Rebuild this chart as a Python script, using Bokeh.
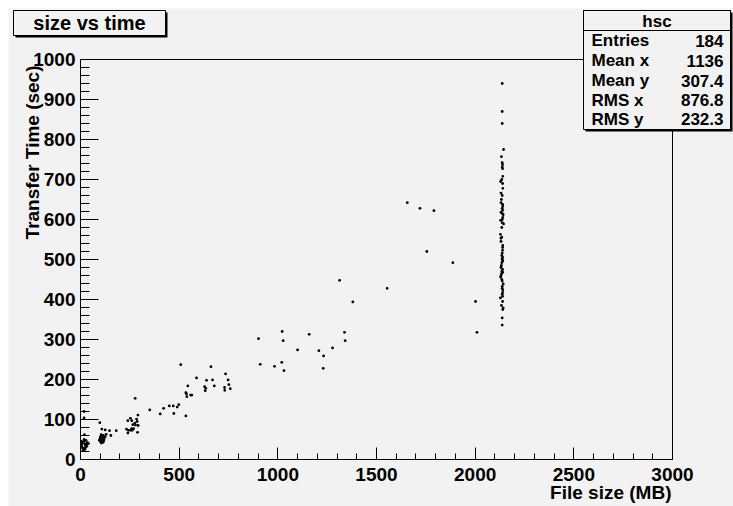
import numpy as np
from bokeh.plotting import figure
from bokeh.models import Range1d, SingleIntervalTicker, BoxAnnotation, Label, ColumnDataSource
from bokeh.embed import file_html
from bokeh.resources import INLINE

# ---- data ----
# vertical column near 2140 MB
col_x = [2137, 2137, 2137, 2144, 2133, 2137, 2139, 2137, 2139, 2140, 2129, 2140, 2131, 2137,
         2131, 2139, 2140, 2137, 2139, 2131, 2142, 2129, 2137, 2144, 2128, 2135, 2131, 2140,
         2139, 2137, 2135, 2139, 2137, 2140, 2135, 2131, 2139, 2135, 2133, 2131, 2129, 2137,
         2142, 2137, 2140, 2139, 2137, 2139, 2128, 2142, 2140, 2137, 2137,
         2135, 2139, 2133, 2137, 2140, 2135, 2131, 2139, 2137, 2133, 2140, 2135, 2137, 2139, 2133, 2137]
col_y = [940, 870, 840, 775, 757, 742, 737, 731, 727, 708, 695, 678, 666, 660,
         642, 638, 633, 628, 623, 618, 612, 598, 592, 589, 563, 556, 553, 535,
         523, 516, 510, 506, 502, 496, 492, 480, 475, 470, 464, 459, 456, 446,
         439, 433, 423, 417, 413, 408, 404, 379, 375, 354, 336,
         700, 690, 650, 615, 605, 580, 545, 530, 500, 485, 468, 450, 428, 395, 385, 600]
# scattered points 900-2010 MB
mid_x = [911, 983, 1020, 1031, 902, 1022, 1027, 1159, 1338, 1341, 1100, 1208, 1277, 1232, 1230,
         1313, 1380, 1554, 1656, 1720, 1791, 1755, 1887, 2002, 2009]
mid_y = [238, 233, 243, 222, 302, 320, 297, 313, 318, 297, 274, 272, 279, 259, 228,
         448, 394, 428, 642, 628, 622, 520, 492, 395, 318]
# points 230-760 MB
low_x = [508, 661, 735, 588, 639, 669, 748, 544, 629, 678, 752, 635, 730, 759, 632, 731,
         534, 537, 558, 564, 539, 277, 450, 470, 490, 498, 421, 351, 404, 473, 534, 291,
         253, 240, 260, 284, 287, 275, 265, 292, 279, 259, 242, 253, 262, 233, 240, 289, 269]
low_y = [237, 232, 214, 204, 198, 199, 199, 184, 182, 184, 187, 178, 180, 177, 172, 173,
         167, 164, 161, 161, 157, 153, 134, 134, 131, 137, 128, 124, 114, 115, 109, 111,
         103, 97, 97, 101, 95, 91, 87, 85, 86, 77, 73, 73, 73, 76, 66, 68, 77]
# small files 0-200 MB
small_x = [18, 18, 20, 98, 108, 125, 147, 181, 154, 105,
           100, 112, 108, 101, 115, 120, 105, 118, 110, 125, 98, 103,
           5, 10, 15, 20, 25, 30, 35, 12, 22, 28, 8, 32, 18, 40,
           6, 24, 115, 130, 95]
small_y = [120, 104, 62, 92, 76, 74, 72, 72, 60, 62,
           55, 55, 48, 45, 43, 52, 41, 47, 50, 57, 50, 58,
           35, 40, 28, 45, 30, 38, 42, 22, 25, 48, 30, 33, 50, 40,
           45, 36, 60, 63, 48]

file_size = col_x + mid_x + low_x + small_x
transfer_time = col_y + mid_y + low_y + small_y

hist_name = "hsc"
stat_names = ["Entries", "Mean x", "Mean y", "RMS x", "RMS y"]
stat_values = ["184", "1136", "307.4", "876.8", "232.3"]
title_text = "size vs time"
x_title = "File size (MB)"
y_title = "Transfer Time (sec)"

# ---- layout ----
BG = "#f2f2f2"
FONT = "Liberation Sans"
MARGIN = 8
W, H = 725, 498
# ROOT frame in page pixels
PL, PR, PT, PB = 80, 672, 59, 459
X0, X1, Y0, Y1 = 0, 3000, 0, 1000


def px(X):
    """page pixel x -> data x"""
    return X0 + (X - PL) / (PR - PL) * (X1 - X0)


def py(Y):
    """page pixel y -> data y"""
    return Y0 + (PB - Y) / (PB - PT) * (Y1 - Y0)


p = figure(width=W, height=H,
           x_range=Range1d(px(MARGIN), px(MARGIN + W)),
           y_range=Range1d(py(MARGIN + H), py(MARGIN)),
           output_backend="svg", toolbar_location=None, title=None,
           margin=(MARGIN, 0, 0, MARGIN),
           min_border_left=0, min_border_right=0, min_border_top=0, min_border_bottom=0,
           background_fill_color=BG, border_fill_color=BG, outline_line_color=None)
p.grid.visible = False

p.xaxis.ticker = SingleIntervalTicker(interval=500, num_minor_ticks=5)
p.yaxis.ticker = SingleIntervalTicker(interval=100, num_minor_ticks=5)
p.xaxis.fixed_location = Y0
p.yaxis.fixed_location = X0
p.xaxis.bounds = (X0, X1)
p.yaxis.bounds = (Y0, Y1)
for ax in (p.xaxis[0], p.yaxis[0]):
    ax.major_tick_out = 0
    ax.minor_tick_out = 0
    ax.axis_line_color = "black"
    ax.major_tick_line_color = "black"
    ax.minor_tick_line_color = "black"
    ax.major_label_text_font = FONT
    ax.major_label_text_font_size = "19px"
    ax.major_label_text_font_style = "bold"
    ax.major_label_text_color = "black"
p.xaxis.major_label_standoff = 8
p.yaxis.major_label_standoff = 5
p.xaxis.major_tick_in = 12
p.xaxis.minor_tick_in = 6
p.yaxis.major_tick_in = 18
p.yaxis.minor_tick_in = 9

# frame outline (top / right edges of the ROOT frame)
p.add_layout(BoxAnnotation(left=X0, right=X1, bottom=Y0, top=Y1, fill_alpha=0.0,
                           line_color="black", line_alpha=1.0, line_width=1))

src = ColumnDataSource(dict(x=file_size, y=transfer_time))
p.scatter("x", "y", source=src, size=2.8, marker="circle", fill_color="black", line_color=None)


def box(l, r, t, b, fill, line="black", fill_alpha=1.0):
    return BoxAnnotation(left=px(l), right=px(r), top=py(t), bottom=py(b),
                         fill_color=fill, fill_alpha=fill_alpha,
                         line_color=line if line else "black", line_alpha=1.0 if line else 0.0,
                         line_width=1)


def text(X, Y, s, size, align="left", angle=0.0):
    return Label(x=px(X), y=py(Y), text=s, text_font=FONT, text_font_size=size,
                 text_font_style="bold", text_color="black", text_align=align,
                 text_baseline="middle", angle=angle)


# title pave with shadow
p.add_layout(box(15, 167, 12, 37, "black", None))
p.add_layout(box(13, 165, 10, 35, BG))
p.add_layout(text(89, 22.5, title_text, "20px", "center"))

# stats box with shadow
p.add_layout(box(585, 732, 12, 131, "black", None))
p.add_layout(box(583, 730, 10, 129, BG))
p.add_layout(box(583, 730, 10, 30, BG, fill_alpha=0.0))
p.add_layout(text(656.5, 21, hist_name, "17px", "center"))
row_y = [40, 60, 80, 99.5, 118.5]
for name, val, ry in zip(stat_names, stat_values, row_y):
    p.add_layout(text(591, ry, name, "17px", "left"))
    p.add_layout(text(723, ry, val, "17px", "right"))

# axis titles
p.add_layout(text(671, 492, x_title, "19px", "right"))
p.add_layout(text(32, 65, y_title, "19px", "right", angle=np.pi / 2))

open("out.html", "w").write(file_html(p, INLINE))
